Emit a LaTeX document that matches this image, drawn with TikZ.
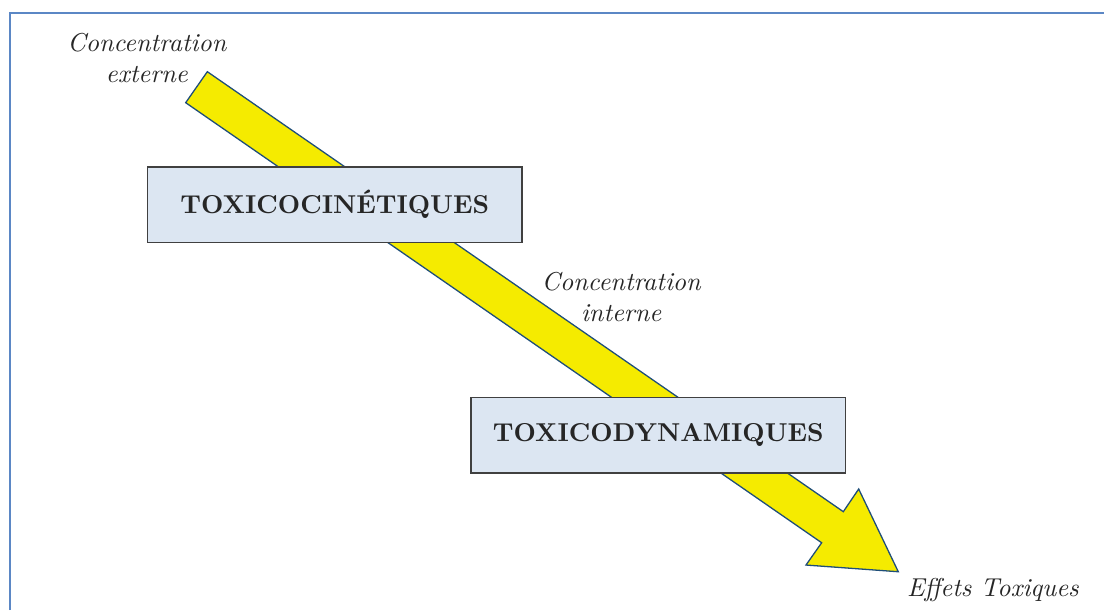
\documentclass[tikz,border=0pt]{standalone}
\usepackage{xcolor}
\usepackage{tikz}
\usetikzlibrary{positioning}

\definecolor{framecol}{HTML}{5B87C5}
\definecolor{arrowfill}{HTML}{F5EB00}
\definecolor{arrowline}{HTML}{1F4E79}
\definecolor{boxfill}{HTML}{DCE6F2}
\definecolor{boxline}{HTML}{404040}

\begin{document}
\begin{tikzpicture}
        [stage/.style={rectangle,draw=boxline,fill=boxfill,semithick,minimum width=5.09cm,minimum height=1.03cm,text=black!85,font=\bfseries,text centered},
        conc/.style={align=center,font=\itshape,text=black!85},
        flow/.style={fill=arrowfill,draw=arrowline,line width=0.5pt,line join=miter}]

\useasboundingbox (0,0) rectangle (15,-8.288);

% frame
\draw[framecol,line width=0.7pt] (0.136,-8.288) -- (0.136,-0.177) -- (15,-0.177);

% big arrow
\coordinate (tailup) at (2.817,-0.974);
\coordinate (taildown) at (2.523,-1.395);
\coordinate (neckup) at (11.458,-6.952);
\coordinate (neckdown) at (11.164,-7.374);
\coordinate (barbup) at (11.667,-6.644);
\coordinate (barbdown) at (10.951,-7.677);
\coordinate (tip) at (12.205,-7.768);

\draw[flow] (tailup) -- (neckup) -- (barbup) -- (tip) -- (barbdown) -- (neckdown) -- (taildown) -- cycle;

% stages
\node[stage] at (4.549,-2.781) (cinetique) {TOXICOCINÉTIQUES};

\node[stage] at (8.944,-5.914) (dynamique) {TOXICODYNAMIQUES};

% labels
\node[conc] at (1.995,-0.792) (externe) {Concentration\\externe};

\node[conc] at (8.440,-4.039) (interne) {Concentration\\interne};

\node[conc,anchor=base] at (13.490,-8.098) (effets) {Effets Toxiques};

\end{tikzpicture}
\end{document}
